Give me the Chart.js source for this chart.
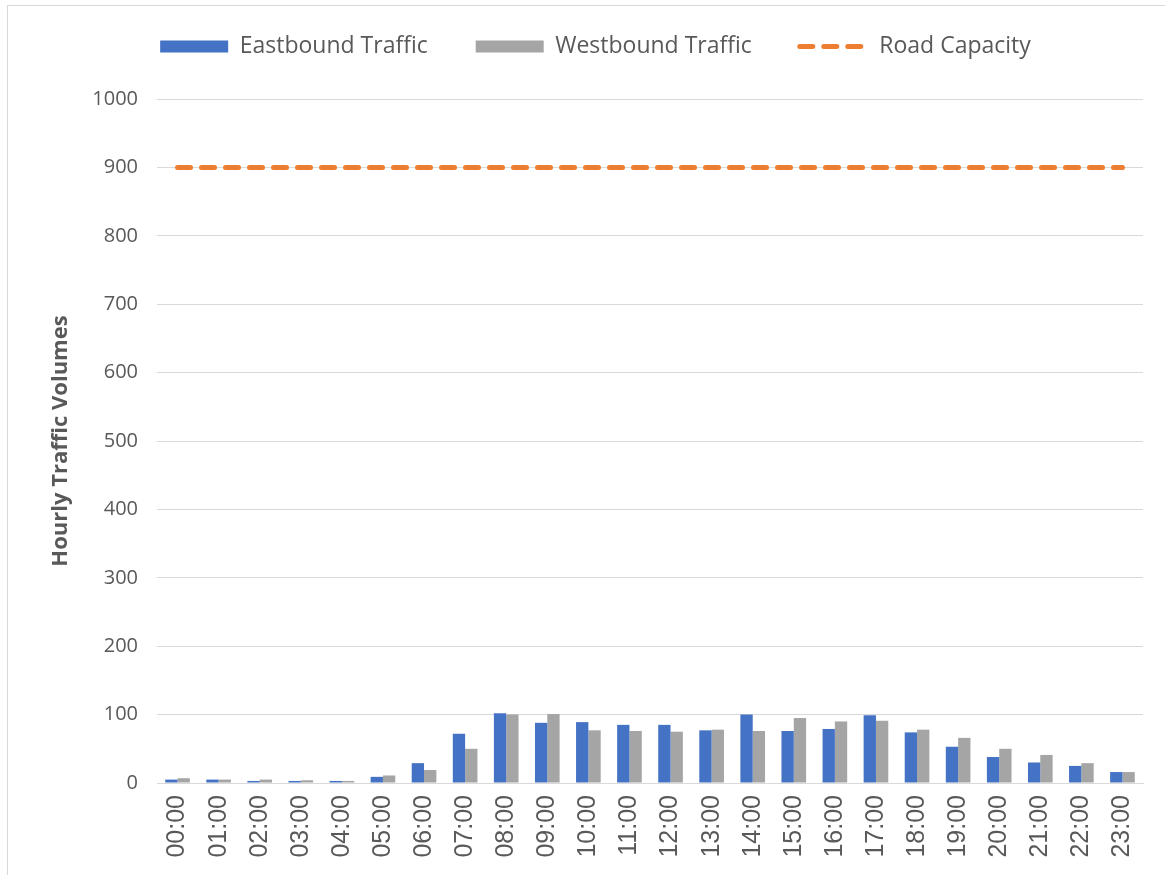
<!DOCTYPE html>
<html>
<head>
<meta charset="utf-8">
<script src="https://cdn.jsdelivr.net/npm/chart.js@4.4.0/dist/chart.umd.min.js"></script>
<style>
  body { margin: 0; background: #fff; }
  #wrap { position: relative; width: 1165px; height: 875px; }
  #frame { position: absolute; left: 7px; top: 5px; width: 1170px; height: 880px;
           border-left: 1px solid #d9d9d9; border-top: 1px solid #d9d9d9; }
  canvas { position: absolute; left: 0; top: 0; }
</style>
</head>
<body>
<div id="wrap">
  <div id="frame"></div>
  <canvas id="trafficChart" width="1165" height="875"></canvas>
</div>
<script>
const hours = ['00:00', '01:00', '02:00', '03:00', '04:00', '05:00', '06:00', '07:00',
               '08:00', '09:00', '10:00', '11:00', '12:00', '13:00', '14:00', '15:00',
               '16:00', '17:00', '18:00', '19:00', '20:00', '21:00', '22:00', '23:00'];
const eastbound = [5, 5, 3, 3, 3, 9, 29, 72, 102, 88, 89, 85, 85, 77, 100, 76, 79, 99, 74, 53, 38, 30, 25, 16];
const westbound = [7, 5, 5, 4, 3, 11, 19, 50, 100, 101, 77, 76, 75, 78, 76, 95, 90, 91, 78, 66, 50, 41, 29, 16];
const roadCapacity = hours.map(() => 900);
const yTicks = [0, 100, 200, 300, 400, 500, 600, 700, 800, 900, 1000];

const capacityDash = [13, 11];

// make the legend box taller so the plot starts lower
const legendHeightPlugin = {
    id: 'legendHeight',
    beforeInit(chart) {
        const fit = chart.legend.fit;
        chart.legend.fit = function () {
            fit.call(this);
            this.height = 112;
        };
    }
};

const ctx = document.getElementById('trafficChart').getContext('2d');

new Chart(ctx, {
    type: 'bar',
    data: {
        labels: hours,
        datasets: [{
            label: 'Eastbound Traffic',
            data: eastbound,
            backgroundColor: '#4472C4',
            pointStyle: 'rect',
            categoryPercentage: 0.6,
            barPercentage: 1.0,
            order: 2
        }, {
            label: 'Westbound Traffic',
            data: westbound,
            backgroundColor: '#A5A5A5',
            pointStyle: 'rect',
            categoryPercentage: 0.6,
            barPercentage: 1.0,
            order: 3
        }, {
            type: 'line',
            label: 'Road Capacity',
            data: roadCapacity,
            borderColor: '#ED7D31',
            backgroundColor: '#ED7D31',
            borderWidth: 5,
            borderDash: capacityDash,
            borderCapStyle: 'round',
            pointRadius: 0,
            pointStyle: 'line',
            fill: false,
            order: 1
        }]
    },
    options: {
        responsive: false,
        animation: false,
        layout: {
            padding: { left: 48, right: 22, top: -13, bottom: 0 }
        },
        plugins: {
            legend: {
                position: 'top',
                labels: {
                    usePointStyle: true,
                    pointStyleWidth: 68,
                    boxHeight: 12,
                    padding: 48,
                    color: '#595959',
                    font: { family: 'Open Sans', size: 23 },
                    sort: (a, b) => a.datasetIndex - b.datasetIndex,
                    generateLabels: chart => {
                        const items = Chart.defaults.plugins.legend.labels.generateLabels(chart);
                        items.forEach(item => {
                            if (item.pointStyle === 'line') {
                                item.lineDash = capacityDash;
                                item.lineCap = 'round';
                                item.lineWidth = 5;
                                item.strokeStyle = '#ED7D31';
                            } else {
                                item.lineWidth = 0;
                            }
                        });
                        return items;
                    }
                }
            },
            tooltip: { enabled: false }
        },
        scales: {
            x: {
                grid: { display: false, drawTicks: false },
                border: { color: '#d9d9d9' },
                ticks: {
                    color: '#595959',
                    maxRotation: 90,
                    minRotation: 90,
                    padding: 12,
                    font: { family: 'Liberation Sans', size: 25 }
                },
                afterFit: scale => { scale.height = 92; }
            },
            y: {
                min: 0,
                max: 1000,
                afterBuildTicks: scale => { scale.ticks = yTicks.map(v => ({ value: v })); },
                grid: { color: '#d9d9d9', lineWidth: 1, drawTicks: false },
                border: { display: false },
                ticks: {
                    color: '#595959',
                    padding: 19,
                    font: { family: 'Open Sans', size: 20 },
                    callback: v => String(v)
                },
                title: {
                    display: true,
                    text: 'Hourly Traffic Volumes',
                    color: '#595959',
                    padding: 0,
                    font: { family: 'Open Sans', size: 22, weight: 'bold' }
                },
                afterFit: scale => { scale.width = 109; }
            }
        }
    },
    plugins: [legendHeightPlugin]
});
</script>
</body>
</html>
